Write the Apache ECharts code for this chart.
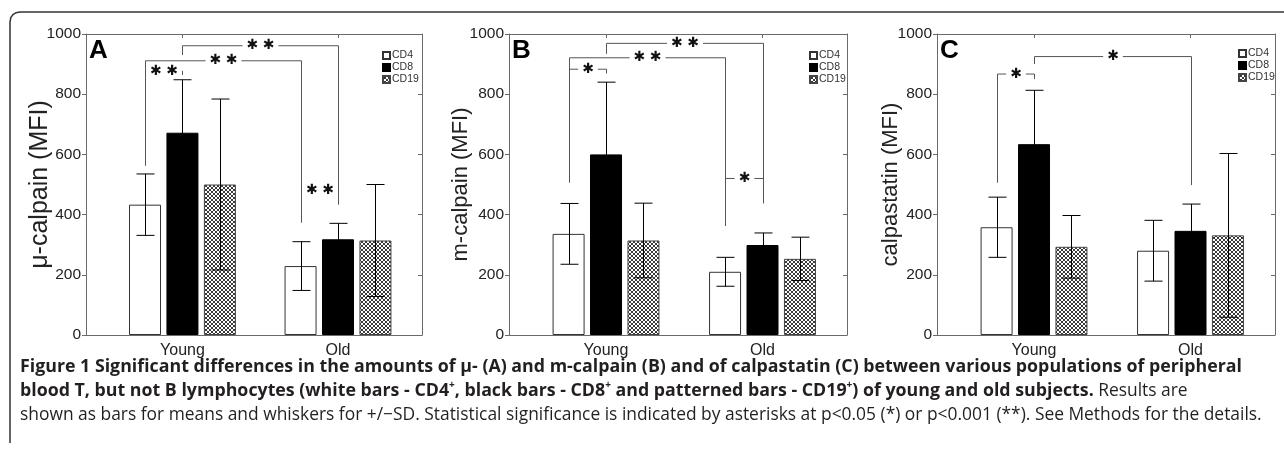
<!DOCTYPE html>
<html><head><meta charset="utf-8">
<script src="https://cdn.jsdelivr.net/npm/echarts@6/dist/echarts.min.js"></script>
<style>html,body{margin:0;padding:0;background:#fff}#c{width:1284px;height:455px}</style>
</head><body><div id="c"></div>
<script>
// ---------- data ----------
const groups = ['Young', 'Old'];
const cellTypes = ['CD4', 'CD8', 'CD19'];
const panelLetters = ['A', 'B', 'C'];
const yAxisNames = ['μ-calpain (MFI)', 'm-calpain (MFI)', 'calpastatin (MFI)'];
const yTickValues = [0, 200, 400, 600, 800, 1000];

// means / SD per cell type (CD4, CD8, CD19), each [Young, Old]
const muCalpainMean = [[433, 229], [672, 318], [500, 314]];
const muCalpainSD   = [[102, 81], [176, 53], [284, 186]];
const mCalpainMean  = [[336, 210], [600, 299], [314, 253]];
const mCalpainSD    = [[101, 48], [240, 40], [124, 72]];
const calpastatinMean = [[358, 280], [634, 346], [293, 331]];
const calpastatinSD   = [[100, 101], [179, 89], [104, 272]];

// significance brackets: [group1, type1, group2, type2, top, leftEnd, rightEnd]
const muCalpainSig = [[0, 0, 1, 0, 911, 562, 373], [0, 1, 1, 1, 961, 930, 433], [0, 0, 0, 1, 877, 877, 864], [1, 0, 1, 1, 482, 482, 482]];
const muCalpainSigLabels = ['**', '**', '**', '**'];
const mCalpainSig = [[0, 0, 1, 0, 921, 506, 362], [0, 1, 1, 1, 969, 934, 437], [0, 0, 0, 1, 883, 883, 869], [1, 0, 1, 1, 520, 520, 520]];
const mCalpainSigLabels = ['**', '**', '*', '*'];
const calpastatinSig = [[0, 0, 0, 1, 867, 506, 850], [0, 1, 1, 1, 925, 900, 498]];
const calpastatinSigLabels = ['*', '*'];

const captionLine1 = 'Figure 1 Significant differences in the amounts of μ- (A) and m-calpain (B) and of calpastatin (C) between various populations of peripheral';
const captionLine2Parts = ['blood T, but not B lymphocytes (white bars - CD4', '+', ', black bars - CD8', '+', ' and patterned bars - CD19', '+', ') of young and old subjects.'];
const captionLine2Tail = ' Results are';
const captionLine3 = 'shown as bars for means and whiskers for +/\u2212SD. Statistical significance is indicated by asterisks at p<0.05 (*) or p<0.001 (**). See Methods for the details.';

// ---------- layout / style ----------
const means = [muCalpainMean, mCalpainMean, calpastatinMean];
const sds = [muCalpainSD, mCalpainSD, calpastatinSD];
const sigs = [muCalpainSig, mCalpainSig, calpastatinSig];
const sigLabels = [muCalpainSigLabels, mCalpainSigLabels, calpastatinSigLabels];

const grids = [
  { left: 86, top: 34, width: 336, height: 301 },
  { left: 509, top: 34, width: 338, height: 301 },
  { left: 937, top: 34, width: 338, height: 301 }
];
const legendPos = [{ left: 377, top: 45 }, { left: 804, top: 45 }, { left: 1233, top: 43 }];
const nameSizes = [25, 22, 22];
const nameGaps = [33, 37, 35];
const letterPos = [[89, 38], [512, 38], [940, 38]];
const X_MIN = 0.38, X_MAX = 2.54;
const BAR_W = 32, BAR_GAP = 0.17;
const BAR_STEP = BAR_W * (1 + BAR_GAP);
const CAP = 9;
const FONT = '"Liberation Sans", Arial, sans-serif';
const AXIS_COLOR = '#6a6a6a';

function makePattern() {
  const c = document.createElement('canvas');
  c.width = 4; c.height = 4;
  const ctx = c.getContext('2d');
  ctx.fillStyle = '#fff'; ctx.fillRect(0, 0, 4, 4);
  ctx.fillStyle = '#3a3a3a';
  [[0,0],[1,1],[2,2],[3,3],[3,0],[2,1],[1,2],[0,3]].forEach(p => ctx.fillRect(p[0], p[1], 1, 1));
  return c;
}
const pattern = { image: makePattern(), repeat: 'repeat' };
const barStyles = [
  { color: '#ffffff', borderColor: '#333', borderWidth: 1 },
  { color: '#000000', borderColor: '#000', borderWidth: 1 },
  { color: pattern, borderColor: '#444', borderWidth: 1 }
];

function errorBarRender(params, api) {
  const g = api.value(0), k = api.value(1), m = api.value(2), s = api.value(3);
  const top = api.coord([g, m + s]);
  const bot = api.coord([g, m - s]);
  const x = Math.round(top[0] + (k - 1) * BAR_STEP) + 0.5;
  const st = { stroke: '#000', lineWidth: 1 };
  return { type: 'group', children: [
    { type: 'line', shape: { x1: x, y1: top[1], x2: x, y2: bot[1] }, style: st },
    { type: 'line', shape: { x1: x - CAP, y1: top[1], x2: x + CAP, y2: top[1] }, style: st },
    { type: 'line', shape: { x1: x - CAP, y1: bot[1], x2: x + CAP, y2: bot[1] }, style: st }
  ]};
}

function bracketRender(labels) {
  return function (params, api) {
    const g1 = api.value(0), k1 = api.value(1), g2 = api.value(2), k2 = api.value(3);
    const yt = api.value(4), yl = api.value(5), yr = api.value(6);
    const pL = api.coord([g1, yt]), pR = api.coord([g2, yt]);
    const xl = Math.round(pL[0] + (k1 - 1) * BAR_STEP) + 0.5, xr = Math.round(pR[0] + (k2 - 1) * BAR_STEP) + 0.5;
    const ylp = api.coord([g1, yl])[1], yrp = api.coord([g2, yr])[1];
    const txt = labels[params.dataIndex].split('').map(() => '\u2731').join(' ');
    return { type: 'group', children: [
      { type: 'polyline', shape: { points: [[xl, ylp], [xl, pL[1]], [xr, pL[1]], [xr, yrp]] },
        style: { stroke: '#555', lineWidth: 1, fill: null } },
      { type: 'text', x: (xl + xr) / 2, y: pL[1], z2: 10,
        style: { text: txt, fill: '#111', font: '14px "DejaVu Sans"', align: 'center', verticalAlign: 'middle',
                 backgroundColor: '#fff', padding: [1, 4] } }
    ]};
  };
}

const xAxes = [], yAxes = [], series = [], legends = [], graphics = [];
grids.forEach((g, p) => {
  xAxes.push({
    type: 'value', gridIndex: p, min: X_MIN, max: X_MAX, position: 'bottom',
    axisLine: { show: true, onZero: false, lineStyle: { color: AXIS_COLOR } },
    axisTick: { show: false },
    axisLabel: { customValues: [1, 2], formatter: v => groups[Math.round(v) - 1], fontSize: 16, color: '#222', fontFamily: FONT, margin: 8 },
    splitLine: { show: false }
  });
  xAxes.push({
    type: 'value', gridIndex: p, min: X_MIN, max: X_MAX, position: 'top',
    axisLine: { show: true, onZero: false, lineStyle: { color: AXIS_COLOR } },
    axisTick: { show: true, inside: true, length: 4, customValues: [1, 2], lineStyle: { color: AXIS_COLOR } },
    axisLabel: { show: false }, splitLine: { show: false }
  });
  yAxes.push({
    type: 'value', gridIndex: p, min: yTickValues[0], max: yTickValues[yTickValues.length - 1], interval: yTickValues[1] - yTickValues[0], position: 'left',
    axisLine: { show: true, lineStyle: { color: AXIS_COLOR } },
    axisTick: { show: true, inside: false, length: 4, lineStyle: { color: AXIS_COLOR } },
    axisLabel: { fontSize: 15.5, color: '#222', fontFamily: FONT, margin: 5, formatter: v => String(v) },
    splitLine: { show: false },
    name: yAxisNames[p], nameLocation: 'middle', nameGap: nameGaps[p], nameMoveOverlap: false,
    nameTextStyle: { fontSize: nameSizes[p], color: '#222', fontFamily: FONT }
  });
  yAxes.push({
    type: 'value', gridIndex: p, min: yTickValues[0], max: yTickValues[yTickValues.length - 1], interval: yTickValues[1] - yTickValues[0], position: 'right',
    axisLine: { show: true, lineStyle: { color: AXIS_COLOR } },
    axisTick: { show: true, inside: true, length: 4, lineStyle: { color: AXIS_COLOR } },
    axisLabel: { show: false }, splitLine: { show: false }
  });
  cellTypes.forEach((ct, k) => {
    series.push({
      type: 'bar', name: ct, xAxisIndex: p * 2, yAxisIndex: p * 2,
      barWidth: BAR_W, barGap: (BAR_GAP * 100) + '%',
      itemStyle: barStyles[k], silent: true, animation: false,
      data: groups.map((gr, i) => [i + 1, means[p][k][i]])
    });
  });
  const eb = [];
  cellTypes.forEach((ct, k) => groups.forEach((gr, i) => eb.push([i + 1, k, means[p][k][i], sds[p][k][i]])));
  series.push({ type: 'custom', xAxisIndex: p * 2, yAxisIndex: p * 2, renderItem: errorBarRender, data: eb, z: 5, silent: true, animation: false });
  series.push({
    type: 'custom', xAxisIndex: p * 2, yAxisIndex: p * 2, renderItem: bracketRender(sigLabels[p]),
    data: sigs[p].map(s => [s[0] + 1, s[1], s[2] + 1, s[3], s[4], s[5], s[6]]),
    encode: { x: [0, 2], y: [4, 5, 6] }, z: 6, silent: true, animation: false
  });
  legends.push({
    data: cellTypes, orient: 'vertical', left: legendPos[p].left, top: legendPos[p].top,
    itemWidth: 7, itemHeight: 7, itemGap: 1, icon: 'rect', selectedMode: false,
    textStyle: { fontSize: 10.5, color: '#333', fontFamily: FONT, lineHeight: 10, padding: [0, 0, 0, -3] }
  });
  graphics.push({ type: 'text', left: letterPos[p][0], top: letterPos[p][1],
    style: { text: panelLetters[p], font: 'bold 26px ' + FONT, fill: '#000' } });
});

// outer frame
graphics.push({ type: 'polyline', silent: true,
  shape: { points: [[10, 443], [10, 22], [10.8, 17.5], [13, 14.5], [16, 12.7], [20, 12], [1284, 12]] },
  style: { stroke: '#333', lineWidth: 1.5, fill: null } });

const CAP_FONT = '"Open Sans", "Noto Sans", sans-serif';
const CAP_BOLD = 17.8, CAP_NORM = 17.4;
graphics.push({ type: 'text', silent: true, style: { x: 20, y: 367, text: captionLine1, verticalAlign: 'middle',
  font: 'bold ' + CAP_BOLD + 'px ' + CAP_FONT, fill: '#231f20' } });
const l2 = captionLine2Parts.map((t, i) => (i % 2 === 1 ? '{s|' + t + '}' : '{b|' + t + '}')).join('') + '{n|' + captionLine2Tail + '}';
graphics.push({ type: 'text', silent: true, style: { x: 20, y: 391, text: l2, verticalAlign: 'middle',
  rich: {
    b: { fontFamily: CAP_FONT, fontWeight: 'bold', fontSize: CAP_BOLD, fill: '#231f20', lineHeight: 22 },
    s: { fontFamily: CAP_FONT, fontWeight: 'bold', fontSize: 10, fill: '#231f20', lineHeight: 22, verticalAlign: 'top' },
    n: { fontFamily: CAP_FONT, fontSize: CAP_NORM, fill: '#231f20', lineHeight: 22 }
  } } });
graphics.push({ type: 'text', silent: true, style: { x: 20, y: 415, text: captionLine3, verticalAlign: 'middle',
  font: CAP_NORM + 'px ' + CAP_FONT, fill: '#231f20' } });

const chart = echarts.init(document.getElementById('c'), null, { renderer: 'canvas' });
chart.setOption({
  backgroundColor: '#fff',
  animation: false,
  grid: grids,
  xAxis: xAxes,
  yAxis: yAxes,
  legend: legends,
  series: series,
  graphic: graphics
});
</script></body></html>
